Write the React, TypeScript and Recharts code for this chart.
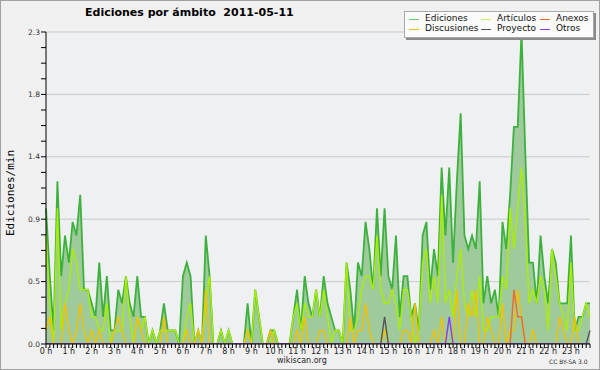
import React from 'react';
import { ComposedChart, Area, Line, XAxis, YAxis, CartesianGrid } from 'recharts';

// 10-minute slots of the day (0 = 00:00 ... 143 = 23:50)
const slots: number[] = Array.from({ length: 144 }, (_, i) => i);

const ediciones = [
  1.0, 0.5, 0.1, 1.2, 0.5, 0.8, 0.6, 0.9, 0.8, 1.1,
  0.4, 0.4, 0.3, 0.2, 0.6, 0.2, 0.5, 0.1, 0.1, 0.4,
  0.3, 0.5, 0.3, 0.2, 0.5, 0.2, 0.2, 0.0, 0.1, 0.0,
  0.1, 0.3, 0.1, 0.1, 0.1, 0.0, 0.5, 0.6, 0.5, 0.0,
  0.1, 0.0, 0.8, 0.5, 0.0, 0.0, 0.1, 0.0, 0.1, 0.0,
  0.0, 0.0, 0.0, 0.3, 0.0, 0.4, 0.2, 0.0, 0.0, 0.1,
  0.1, 0.0, 0.0, 0.0, 0.0, 0.2, 0.4, 0.1, 0.5, 0.3,
  0.2, 0.4, 0.2, 0.5, 0.3, 0.2, 0.1, 0.1, 0.0, 0.6,
  0.4, 0.1, 0.6, 0.5, 0.9, 0.7, 0.4, 1.0, 0.5, 1.0,
  0.5, 0.4, 0.8, 0.2, 0.5, 0.5, 0.2, 0.3, 0.1, 0.8,
  0.9, 0.4, 0.7, 0.5, 1.3, 0.8, 1.3, 0.6, 1.2, 1.7,
  0.8, 0.7, 0.8, 0.7, 1.2, 0.3, 0.5, 0.3, 0.4, 0.2,
  0.9, 0.7, 1.1, 1.6, 1.6, 2.3, 1.4, 0.6, 0.6, 0.3,
  0.8, 0.5, 0.3, 0.7, 0.6, 0.3, 0.3, 0.3, 0.8, 0.1,
  0.2, 0.2, 0.3, 0.3,
];

const articulos = [
  0.8, 0.3, 0.0, 1.0, 0.1, 0.3, 0.4, 0.7, 0.6, 0.4,
  0.4, 0.4, 0.2, 0.2, 0.1, 0.1, 0.3, 0.0, 0.1, 0.1,
  0.1, 0.5, 0.2, 0.0, 0.2, 0.1, 0.2, 0.0, 0.1, 0.0,
  0.1, 0.1, 0.1, 0.1, 0.1, 0.0, 0.0, 0.2, 0.3, 0.0,
  0.1, 0.0, 0.3, 0.5, 0.0, 0.0, 0.1, 0.0, 0.1, 0.0,
  0.0, 0.0, 0.0, 0.1, 0.0, 0.4, 0.2, 0.0, 0.0, 0.0,
  0.1, 0.0, 0.0, 0.0, 0.0, 0.2, 0.3, 0.1, 0.3, 0.2,
  0.2, 0.4, 0.2, 0.4, 0.2, 0.0, 0.1, 0.1, 0.0, 0.6,
  0.1, 0.1, 0.2, 0.4, 0.5, 0.5, 0.4, 0.8, 0.4, 0.3,
  0.3, 0.4, 0.3, 0.1, 0.4, 0.4, 0.2, 0.0, 0.1, 0.6,
  0.7, 0.3, 0.5, 0.3, 1.1, 0.3, 0.4, 0.2, 0.5, 0.7,
  0.3, 0.2, 0.4, 0.2, 0.5, 0.1, 0.1, 0.2, 0.2, 0.2,
  0.5, 0.4, 1.0, 0.7, 1.0, 1.3, 0.9, 0.3, 0.4, 0.3,
  0.5, 0.4, 0.1, 0.7, 0.5, 0.3, 0.2, 0.1, 0.6, 0.1,
  0.1, 0.2, 0.3, 0.2,
];

const discusiones = [
  0.1, 0.2, 0.0, 0.0, 0.0, 0.3, 0.1, 0.0, 0.1, 0.3,
  0.1, 0.0, 0.1, 0.0, 0.1, 0.0, 0.0, 0.0, 0.1, 0.2,
  0.1, 0.0, 0.0, 0.0, 0.2, 0.1, 0.0, 0.0, 0.0, 0.0,
  0.0, 0.2, 0.0, 0.0, 0.0, 0.0, 0.0, 0.1, 0.0, 0.0,
  0.1, 0.0, 0.4, 0.0, 0.0, 0.0, 0.0, 0.0, 0.0, 0.0,
  0.0, 0.0, 0.0, 0.1, 0.0, 0.0, 0.0, 0.0, 0.0, 0.1,
  0.0, 0.0, 0.0, 0.0, 0.0, 0.0, 0.1, 0.0, 0.2, 0.0,
  0.0, 0.0, 0.1, 0.1, 0.0, 0.0, 0.0, 0.0, 0.0, 0.0,
  0.2, 0.0, 0.1, 0.1, 0.3, 0.1, 0.0, 0.0, 0.0, 0.1,
  0.0, 0.0, 0.0, 0.0, 0.1, 0.1, 0.0, 0.3, 0.0, 0.0,
  0.0, 0.0, 0.1, 0.0, 0.2, 0.0, 0.0, 0.0, 0.4, 0.0,
  0.0, 0.3, 0.2, 0.4, 0.0, 0.0, 0.2, 0.1, 0.0, 0.0,
  0.3, 0.0, 0.1, 0.1, 0.4, 0.2, 0.0, 0.0, 0.1, 0.0,
  0.0, 0.0, 0.0, 0.0, 0.0, 0.2, 0.1, 0.0, 0.0, 0.2,
  0.0, 0.0, 0.0, 0.0,
];

const anexos: Record<number, number> = { 123: 0.4, 124: 0.2, 125: 0.2 };
const proyecto: Record<number, number> = { 89: 0.2, 143: 0.1 };
const otros: Record<number, number> = { 106: 0.2 };

const hourLabels = [
  '0 h', '1 h', '2 h', '3 h', '4 h', '5 h', '6 h', '7 h', '8 h', '9 h', '10 h', '11 h',
  '12 h', '13 h', '14 h', '15 h', '16 h', '17 h', '18 h', '19 h', '20 h', '21 h', '22 h', '23 h',
];

const yTickValues = [
  0, 0.115, 0.23, 0.345, 0.46, 0.575, 0.69, 0.805, 0.92, 1.035, 1.15,
  1.265, 1.38, 1.495, 1.61, 1.725, 1.84, 1.955, 2.07, 2.185, 2.3,
];
const yMajorLabels: Record<string, string> = {
  '0': '0.0', '0.46': '0.5', '0.92': '0.9', '1.38': '1.4', '1.84': '1.8', '2.3': '2.3',
};
const gridValues = [0.46, 0.92, 1.38, 1.84, 2.3];

const C = {
  edLine: '#3db13d',
  edFill: '#9fcb9c',
  art: '#aaee00',
  disc: '#f2c200',
  anex: '#ee6a2a',
  proy: '#555555',
  otros: '#8a3cf0',
};

const data = slots.map((t, i) => ({
  t,
  ediciones: ediciones[i],
  articulos: articulos[i],
  discusiones: discusiones[i],
  anexos: anexos[i] ?? 0,
  proyecto: proyecto[i] ?? 0,
  otros: otros[i] ?? 0,
}));

const xTicks = slots;

const legendItems = [
  { name: 'Ediciones', color: '#6cc46c', x: 4, y: 0 },
  { name: 'Artículos', color: '#c6f060', x: 76, y: 0 },
  { name: 'Anexos', color: C.anex, x: 135, y: 0 },
  { name: 'Discusiones', color: C.disc, x: 4, y: 10 },
  { name: 'Proyecto', color: C.proy, x: 76, y: 10 },
  { name: 'Otros', color: C.otros, x: 135, y: 10 },
];

const LegendBox = () => (
  <div
    style={{
      position: 'absolute',
      left: 404,
      top: 11,
      width: 188,
      height: 25,
      background: '#fbfbfb',
      border: '1px solid #a8a8a8',
      boxShadow: '2px 2px 0 #8a8a8a',
      fontFamily: '"DejaVu Sans", sans-serif',
      fontSize: 9,
      color: '#111',
    }}
  >
    {legendItems.map((it) => (
      <div key={it.name} style={{ position: 'absolute', left: it.x, top: it.y + 2, height: 10, whiteSpace: 'nowrap' }}>
        <span
          style={{
            position: 'absolute',
            left: 0,
            top: 5,
            width: 10,
            height: 1,
            background: it.color,
          }}
        />
        <span style={{ position: 'absolute', left: 16, top: -1, lineHeight: '11px' }}>{it.name}</span>
      </div>
    ))}
  </div>
);

export default function App() {
  return (
    <div
      style={{
        position: 'absolute',
        left: 0,
        top: 0,
        width: 600,
        height: 370,
        background: '#f0f0f0',
        fontFamily: '"DejaVu Sans", sans-serif',
      }}
    >
      <ComposedChart
        width={600}
        height={370}
        data={data}
        margin={{ top: 32, right: 10, bottom: 0, left: 0 }}
      >
        <CartesianGrid
          vertical={false}
          horizontalValues={gridValues}
          stroke="#c9c9c9"
          fill="#eef0f2"
          fillOpacity={1}
        />
        <XAxis
          dataKey="t"
          type="number"
          domain={[0, 143]}
          ticks={xTicks}
          interval={0}
          height={26}
          tickSize={4}
          tickMargin={0}
          axisLine={{ stroke: '#000' }}
          tickLine={{ stroke: '#000' }}
          tick={{ fontSize: 8, fill: '#222', fontFamily: '"DejaVu Sans", sans-serif' }}
          tickFormatter={(v: number) => (v % 6 === 0 ? hourLabels[v / 6] : '')}
        />
        <YAxis
          type="number"
          domain={[0, 2.3]}
          ticks={yTickValues}
          interval={0}
          width={46}
          tickSize={5}
          tickMargin={1}
          axisLine={{ stroke: '#000' }}
          tickLine={{ stroke: '#000' }}
          tick={{ fontSize: 7.5, fill: '#333', fontFamily: '"DejaVu Sans", sans-serif' }}
          tickFormatter={(v: number) => yMajorLabels[String(v)] ?? ''}
          allowDataOverflow
        />
        <Area
          type="linear"
          dataKey="ediciones"
          stroke={C.edLine}
          strokeWidth={1.8}
          fill={C.edFill}
          fillOpacity={1}
          isAnimationActive={false}
          dot={false}
          activeDot={false}
        />
        <Line type="linear" dataKey="articulos" stroke={C.art} strokeWidth={1.4} dot={false} activeDot={false} isAnimationActive={false} />
        <Line type="linear" dataKey="discusiones" stroke={C.disc} strokeWidth={1.4} dot={false} activeDot={false} isAnimationActive={false} />
        <Line type="linear" dataKey="anexos" stroke={C.anex} strokeWidth={1.4} dot={false} activeDot={false} isAnimationActive={false} />
        <Line type="linear" dataKey="proyecto" stroke={C.proy} strokeWidth={1.4} dot={false} activeDot={false} isAnimationActive={false} />
        <Line type="linear" dataKey="otros" stroke={C.otros} strokeWidth={1.4} dot={false} activeDot={false} isAnimationActive={false} />
      </ComposedChart>

      <LegendBox />

      <div
        style={{
          position: 'absolute',
          left: 85,
          top: 6,
          fontSize: 11,
          fontWeight: 'bold',
          whiteSpace: 'pre',
          color: '#000',
        }}
      >
        {'Ediciones por ámbito  2011-05-11'}
      </div>

      <div
        style={{
          position: 'absolute',
          left: 10,
          top: 193,
          transform: 'translate(-50%, -50%) rotate(-90deg)',
          fontFamily: '"DejaVu Sans Mono", monospace',
          fontSize: 11,
          whiteSpace: 'nowrap',
          color: '#000',
        }}
      >
        Ediciones/min
      </div>

      <div style={{ position: 'absolute', left: 277, top: 356, fontSize: 8, color: '#222' }}>wikiscan.org</div>
      <div style={{ position: 'absolute', left: 549, top: 358, fontSize: 6, color: '#333' }}>CC BY-SA 3.0</div>

      <div
        style={{
          position: 'absolute',
          left: 0,
          top: 0,
          width: 600,
          height: 370,
          boxSizing: 'border-box',
          border: '1px solid #a0a0a0',
          pointerEvents: 'none',
        }}
      />
    </div>
  );
}
